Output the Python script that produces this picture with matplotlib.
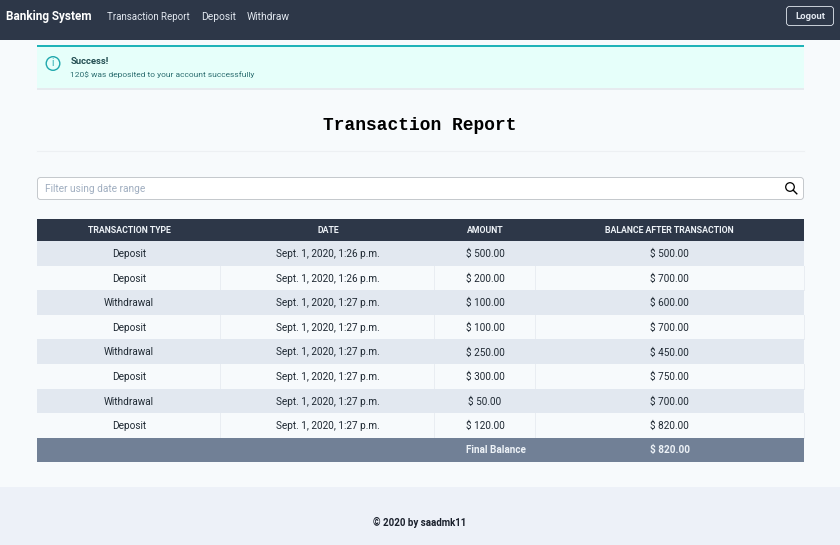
import matplotlib
matplotlib.use("Agg")
import matplotlib.pyplot as plt
from matplotlib.patches import Rectangle, FancyBboxPatch, Circle

plt.rcParams['font.family'] = ['Roboto', 'DejaVu Sans']

W = 840
H = 545

nav_links = ["Transaction Report", "Deposit", "Withdraw"]
headers = ["TRANSACTION TYPE", "DATE", "AMOUNT", "BALANCE AFTER TRANSACTION"]
types = ["Deposit", "Deposit", "Withdrawal", "Deposit", "Withdrawal", "Deposit", "Withdrawal", "Deposit"]
dates = ["Sept. 1, 2020, 1:26 p.m.", "Sept. 1, 2020, 1:26 p.m.", "Sept. 1, 2020, 1:27 p.m.",
         "Sept. 1, 2020, 1:27 p.m.", "Sept. 1, 2020, 1:27 p.m.", "Sept. 1, 2020, 1:27 p.m.",
         "Sept. 1, 2020, 1:27 p.m.", "Sept. 1, 2020, 1:27 p.m."]
amounts = [500, 200, 100, 100, 250, 300, 50, 120]
balances = [500, 700, 600, 700, 450, 750, 700, 820]
final_balance = 820

fig = plt.figure(figsize=(W / 100, H / 100), dpi=100, facecolor="#f7fafc")
ax = fig.add_axes([0, 0, 1, 1])
ax.set_xlim(0, W)
ax.set_ylim(H, 0)
ax.axis("off")


def box(x, y, w, h, color, z=1):
    ax.add_patch(Rectangle((x, y), w, h, facecolor=color, edgecolor="none", zorder=z))


# navbar
box(0, 0, W, 40, "#2d3748")
ax.text(6, 16.5, "Banking System", color="white", fontsize=8.5, fontweight="bold", va="center")
for label, x, size in zip(nav_links, [107, 201, 247], [7.0, 7.4, 7.4]):
    ax.text(x, 16.5, label, color="#e2e8f0", fontsize=size, va="center")
ax.add_patch(FancyBboxPatch((786.5, 6.5), 47, 19, boxstyle="round,pad=0,rounding_size=3",
                            facecolor="#2d3748", edgecolor="#e2e8f0", linewidth=0.6, zorder=2))
ax.text(810, 16.5, "Logout", color="#e2e8f0", fontsize=6.8, fontweight="bold",
        ha="center", va="center", zorder=3)

# alert
box(37, 88, 767, 1.5, "#e6ebef", 1)
box(37, 45, 767, 43, "#e6fffa", 2)
box(37, 45, 767, 2.2, "#1fb3b8", 3)
ax.add_patch(Circle((53, 63.5), 6.8, facecolor="none", edgecolor="#1fa8ad", linewidth=1.0, zorder=3))
ax.text(53, 63.5, "i", color="#1fa8ad", fontsize=7, ha="center", va="center", zorder=3)
ax.text(70.5, 62, "Success!", color="#234e52", fontsize=6.8, fontweight="bold", va="center", zorder=3)
ax.text(70.5, 75, "120$ was deposited to your account successfully", color="#2c6e70",
        fontsize=6.05, va="center", zorder=3)

# title
ax.text(420, 125.5, "Transaction Report", family="Liberation Mono", fontweight="bold",
        fontsize=12.9, color="black", ha="center", va="center")
ax.plot([37, 804], [151, 151], color="#edf0f3", linewidth=0.8)

# filter box
ax.add_patch(FancyBboxPatch((37.5, 177.5), 766, 22, boxstyle="round,pad=0,rounding_size=3",
                            facecolor="white", edgecolor="#c4c8cc", linewidth=0.7))
ax.text(45, 188.5, "Filter using date range", color="#a0aec0", fontsize=7.3, va="center")
ax.add_patch(Circle((790, 187), 4.3, facecolor="none", edgecolor="black", linewidth=0.9, zorder=3))
ax.plot([793.2, 796.8], [190.2, 193.8], color="black", linewidth=1.0, zorder=3)

# table
table_left = 37
table_right = 803.5
centers = [129, 328, 485, 669.5]
separators = [220, 434, 535]
head_top = 219
head_h = 22
row_h = 24.6
first_row = head_top + head_h

box(table_left, head_top, table_right - table_left, head_h, "#2d3748", 2)
for label, x in zip(headers, centers):
    ax.text(x, head_top + 11.5, label, color="#edf2f7", fontsize=6.3, fontweight="bold",
            ha="center", va="center", zorder=3)

for i in range(len(types)):
    y = first_row + i * row_h
    cy = y + row_h / 2 + 0.7
    if i % 2 == 0:
        box(table_left, y, table_right - table_left, row_h, "#e2e8f0", 2)
    else:
        for sx in separators:
            ax.plot([sx, sx], [y, y + row_h], color="#e9edf2", linewidth=0.7, zorder=2)
        ax.plot([table_right] * 2, [y, y + row_h], color="#e9edf2", linewidth=0.7, zorder=2)
    row = [types[i], dates[i], "$ %.2f" % amounts[i], "$ %.2f" % balances[i]]
    for value, x in zip(row, centers):
        ax.text(x, cy, value, color="#1f2933", fontsize=7.2, ha="center", va="center", zorder=3)

final_y = first_row + len(types) * row_h
box(table_left, final_y, table_right - table_left, 24, "#718096", 2)
ax.text(495.5, final_y + 12.5, "Final Balance", color="#edf2f7", fontsize=7.2, fontweight="bold",
        ha="center", va="center", zorder=3)
ax.text(669.5, final_y + 12.5, "$ %.2f" % final_balance, color="#edf2f7", fontsize=7.2, fontweight="bold",
        ha="center", va="center", zorder=3)

# footer
box(0, 487, W, H - 487, "#edf1f8")
ax.text(420, 522.5, "© 2020 by saadmk11", color="#1a202c", fontsize=7.0, fontweight="bold",
        ha="center", va="center")

fig.savefig("out.png", dpi=100, facecolor=fig.get_facecolor())
